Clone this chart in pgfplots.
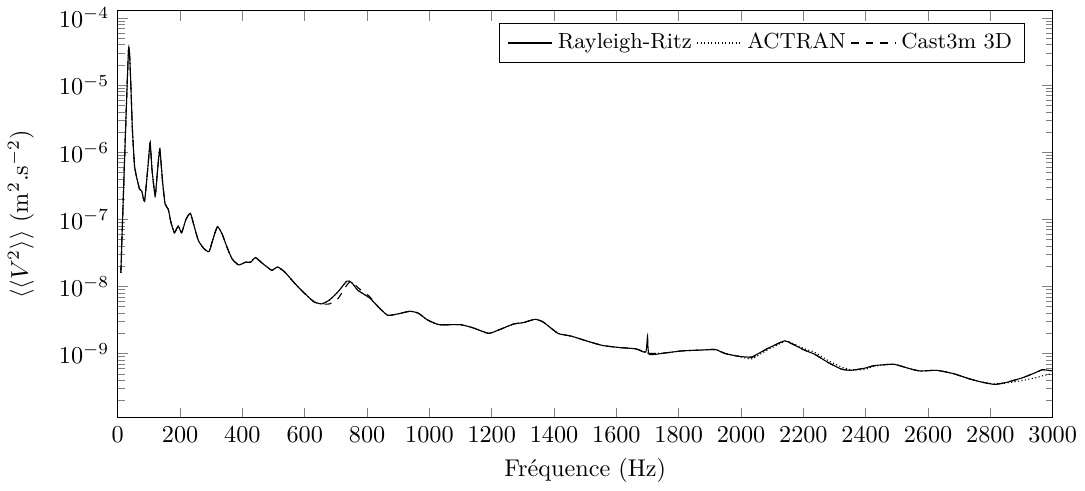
\documentclass[border=0pt]{standalone}
\usepackage{pgfplots}
\usepackage{pgfplotstable}
\pgfplotsset{compat=1.18}

% f (Hz), Rayleigh-Ritz, ACTRAN, Cast3m 3D
\pgfplotstableread{
f     rr        actran    cast
10    1.585e-8  1.585e-8  1.585e-8
35    3.548e-5  3.548e-5  3.548e-5
47    2.188e-6  2.188e-6  2.188e-6
54    6.166e-7  6.166e-7  6.166e-7
62    3.981e-7  3.981e-7  3.981e-7
70    2.818e-7  2.818e-7  2.818e-7
77    2.630e-7  2.630e-7  2.630e-7
86    1.862e-7  1.862e-7  1.862e-7
97    6.166e-7  6.166e-7  6.166e-7
104   1.380e-6  1.380e-6  1.380e-6
110   5.495e-7  5.495e-7  5.495e-7
120   2.239e-7  2.239e-7  2.239e-7
127   4.898e-7  4.898e-7  4.898e-7
135   1.096e-6  1.096e-6  1.096e-6
144   3.548e-7  3.548e-7  3.548e-7
152   1.698e-7  1.698e-7  1.698e-7
162   1.413e-7  1.413e-7  1.413e-7
171   8.913e-8  8.913e-8  8.913e-8
182   6.310e-8  6.310e-8  6.310e-8
194   7.943e-8  7.943e-8  7.943e-8
205   6.310e-8  6.310e-8  6.310e-8
219   1.000e-7  1.000e-7  1.000e-7
233   1.230e-7  1.230e-7  1.230e-7
245   7.943e-8  7.943e-8  7.943e-8
259   4.786e-8  4.786e-8  4.786e-8
277   3.631e-8  3.631e-8  3.631e-8
293   3.311e-8  3.311e-8  3.311e-8
306   5.129e-8  5.129e-8  5.129e-8
320   7.762e-8  7.762e-8  7.762e-8
335   6.026e-8  6.026e-8  6.026e-8
351   3.802e-8  3.802e-8  3.802e-8
367   2.570e-8  2.570e-8  2.570e-8
388   2.089e-8  2.089e-8  2.089e-8
410   2.291e-8  2.291e-8  2.291e-8
426   2.291e-8  2.291e-8  2.291e-8
442   2.692e-8  2.692e-8  2.692e-8
460   2.291e-8  2.291e-8  2.291e-8
479   1.950e-8  1.950e-8  1.950e-8
495   1.738e-8  1.738e-8  1.738e-8
513   1.950e-8  1.950e-8  1.950e-8
537   1.622e-8  1.622e-8  1.622e-8
569   1.096e-8  1.096e-8  1.096e-8
601   7.762e-9  7.762e-9  7.762e-9
630   5.888e-9  5.888e-9  5.888e-9
655   5.495e-9  5.495e-9  5.495e-9
680   6.310e-9  6.310e-9  5.495e-9
707   8.318e-9  8.318e-9  6.607e-9
735   1.202e-8  1.202e-8  1.047e-8
750   1.148e-8  1.148e-8  1.202e-8
771   8.710e-9  8.710e-9  9.550e-9
808   6.761e-9  6.761e-9  7.079e-9
835   5.012e-9  5.012e-9  5.012e-9
866   3.715e-9  3.715e-9  3.715e-9
898   3.890e-9  3.890e-9  3.890e-9
938   4.266e-9  4.266e-9  4.266e-9
965   3.981e-9  3.981e-9  3.981e-9
994   3.162e-9  3.162e-9  3.162e-9
1031  2.692e-9  2.692e-9  2.692e-9
1100  2.692e-9  2.692e-9  2.692e-9
1142  2.399e-9  2.399e-9  2.399e-9
1190  1.995e-9  1.995e-9  1.995e-9
1227  2.291e-9  2.291e-9  2.291e-9
1270  2.754e-9  2.754e-9  2.754e-9
1301  2.884e-9  2.884e-9  2.884e-9
1339  3.236e-9  3.236e-9  3.236e-9
1365  2.951e-9  2.951e-9  2.951e-9
1413  1.995e-9  1.995e-9  1.995e-9
1455  1.820e-9  1.820e-9  1.820e-9
1503  1.549e-9  1.549e-9  1.549e-9
1556  1.318e-9  1.318e-9  1.318e-9
1609  1.230e-9  1.230e-9  1.230e-9
1662  1.175e-9  1.175e-9  1.175e-9
1694  1.047e-9  1.047e-9  1.047e-9
1700  1.820e-9  1.023e-9  1.023e-9
1705  9.772e-10 1.000e-9  1.000e-9
1758  1.023e-9  1.023e-9  1.023e-9
1811  1.096e-9  1.096e-9  1.096e-9
1864  1.122e-9  1.122e-9  1.122e-9
1917  1.148e-9  1.148e-9  1.148e-9
1949  1.000e-9  1.000e-9  1.000e-9
1991  9.120e-10 9.120e-10 9.120e-10
2034  8.913e-10 8.318e-10 8.710e-10
2087  1.202e-9  1.148e-9  1.202e-9
2140  1.549e-9  1.513e-9  1.549e-9
2161  1.413e-9  1.445e-9  1.413e-9
2204  1.122e-9  1.175e-9  1.122e-9
2236  9.772e-10 1.047e-9  9.772e-10
2278  7.413e-10 7.943e-10 7.413e-10
2321  5.888e-10 6.310e-10 5.888e-10
2352  5.623e-10 5.754e-10 5.623e-10
2395  6.026e-10 5.754e-10 6.026e-10
2427  6.607e-10 6.457e-10 6.607e-10
2490  6.918e-10 6.918e-10 6.918e-10
2544  5.888e-10 5.888e-10 5.888e-10
2576  5.495e-10 5.495e-10 5.495e-10
2628  5.623e-10 5.623e-10 5.623e-10
2682  5.012e-10 5.012e-10 5.012e-10
2735  4.169e-10 4.169e-10 4.169e-10
2777  3.715e-10 3.715e-10 3.715e-10
2814  3.467e-10 3.548e-10 3.467e-10
2851  3.715e-10 3.631e-10 3.715e-10
2904  4.365e-10 3.981e-10 4.365e-10
2947  5.248e-10 4.365e-10 5.248e-10
2968  5.754e-10 4.677e-10 5.754e-10
3000  5.495e-10 5.012e-10 5.495e-10
}\spectre

\begin{document}
\begin{tikzpicture}
\begin{axis}[
  scale only axis,
  width=386pt,
  height=168pt,
  ymode=log,
  xmin=0, xmax=3000,
  ymin=1.1e-10, ymax=1.27e-4,
  xtick={0,200,...,3000},
  xticklabel style={/pgf/number format/1000 sep={}},
  xlabel={Fréquence (Hz)},
  ylabel={$\langle\langle V^2\rangle\rangle$ (m$^2$.s$^{-2}$)},
  ylabel shift=3.5pt,
  legend pos=north east,
  legend columns=-1,
  legend cell align=left,
  legend style={font=\small},
  legend image code/.code={\draw[#1] (0cm,0cm) -- (0.65cm,0cm);},
  every axis plot/.append style={smooth, tension=0.3, line width=0.45pt},
]
\addplot[black] table[x=f, y=rr] {\spectre};
\addlegendentry{Rayleigh-Ritz}
\addplot[black, densely dotted] table[x=f, y=actran] {\spectre};
\addlegendentry{ACTRAN}
\addplot[black, dashed] table[x=f, y=cast] {\spectre};
\addlegendentry{Cast3m 3D}
\end{axis}
\end{tikzpicture}
\end{document}
